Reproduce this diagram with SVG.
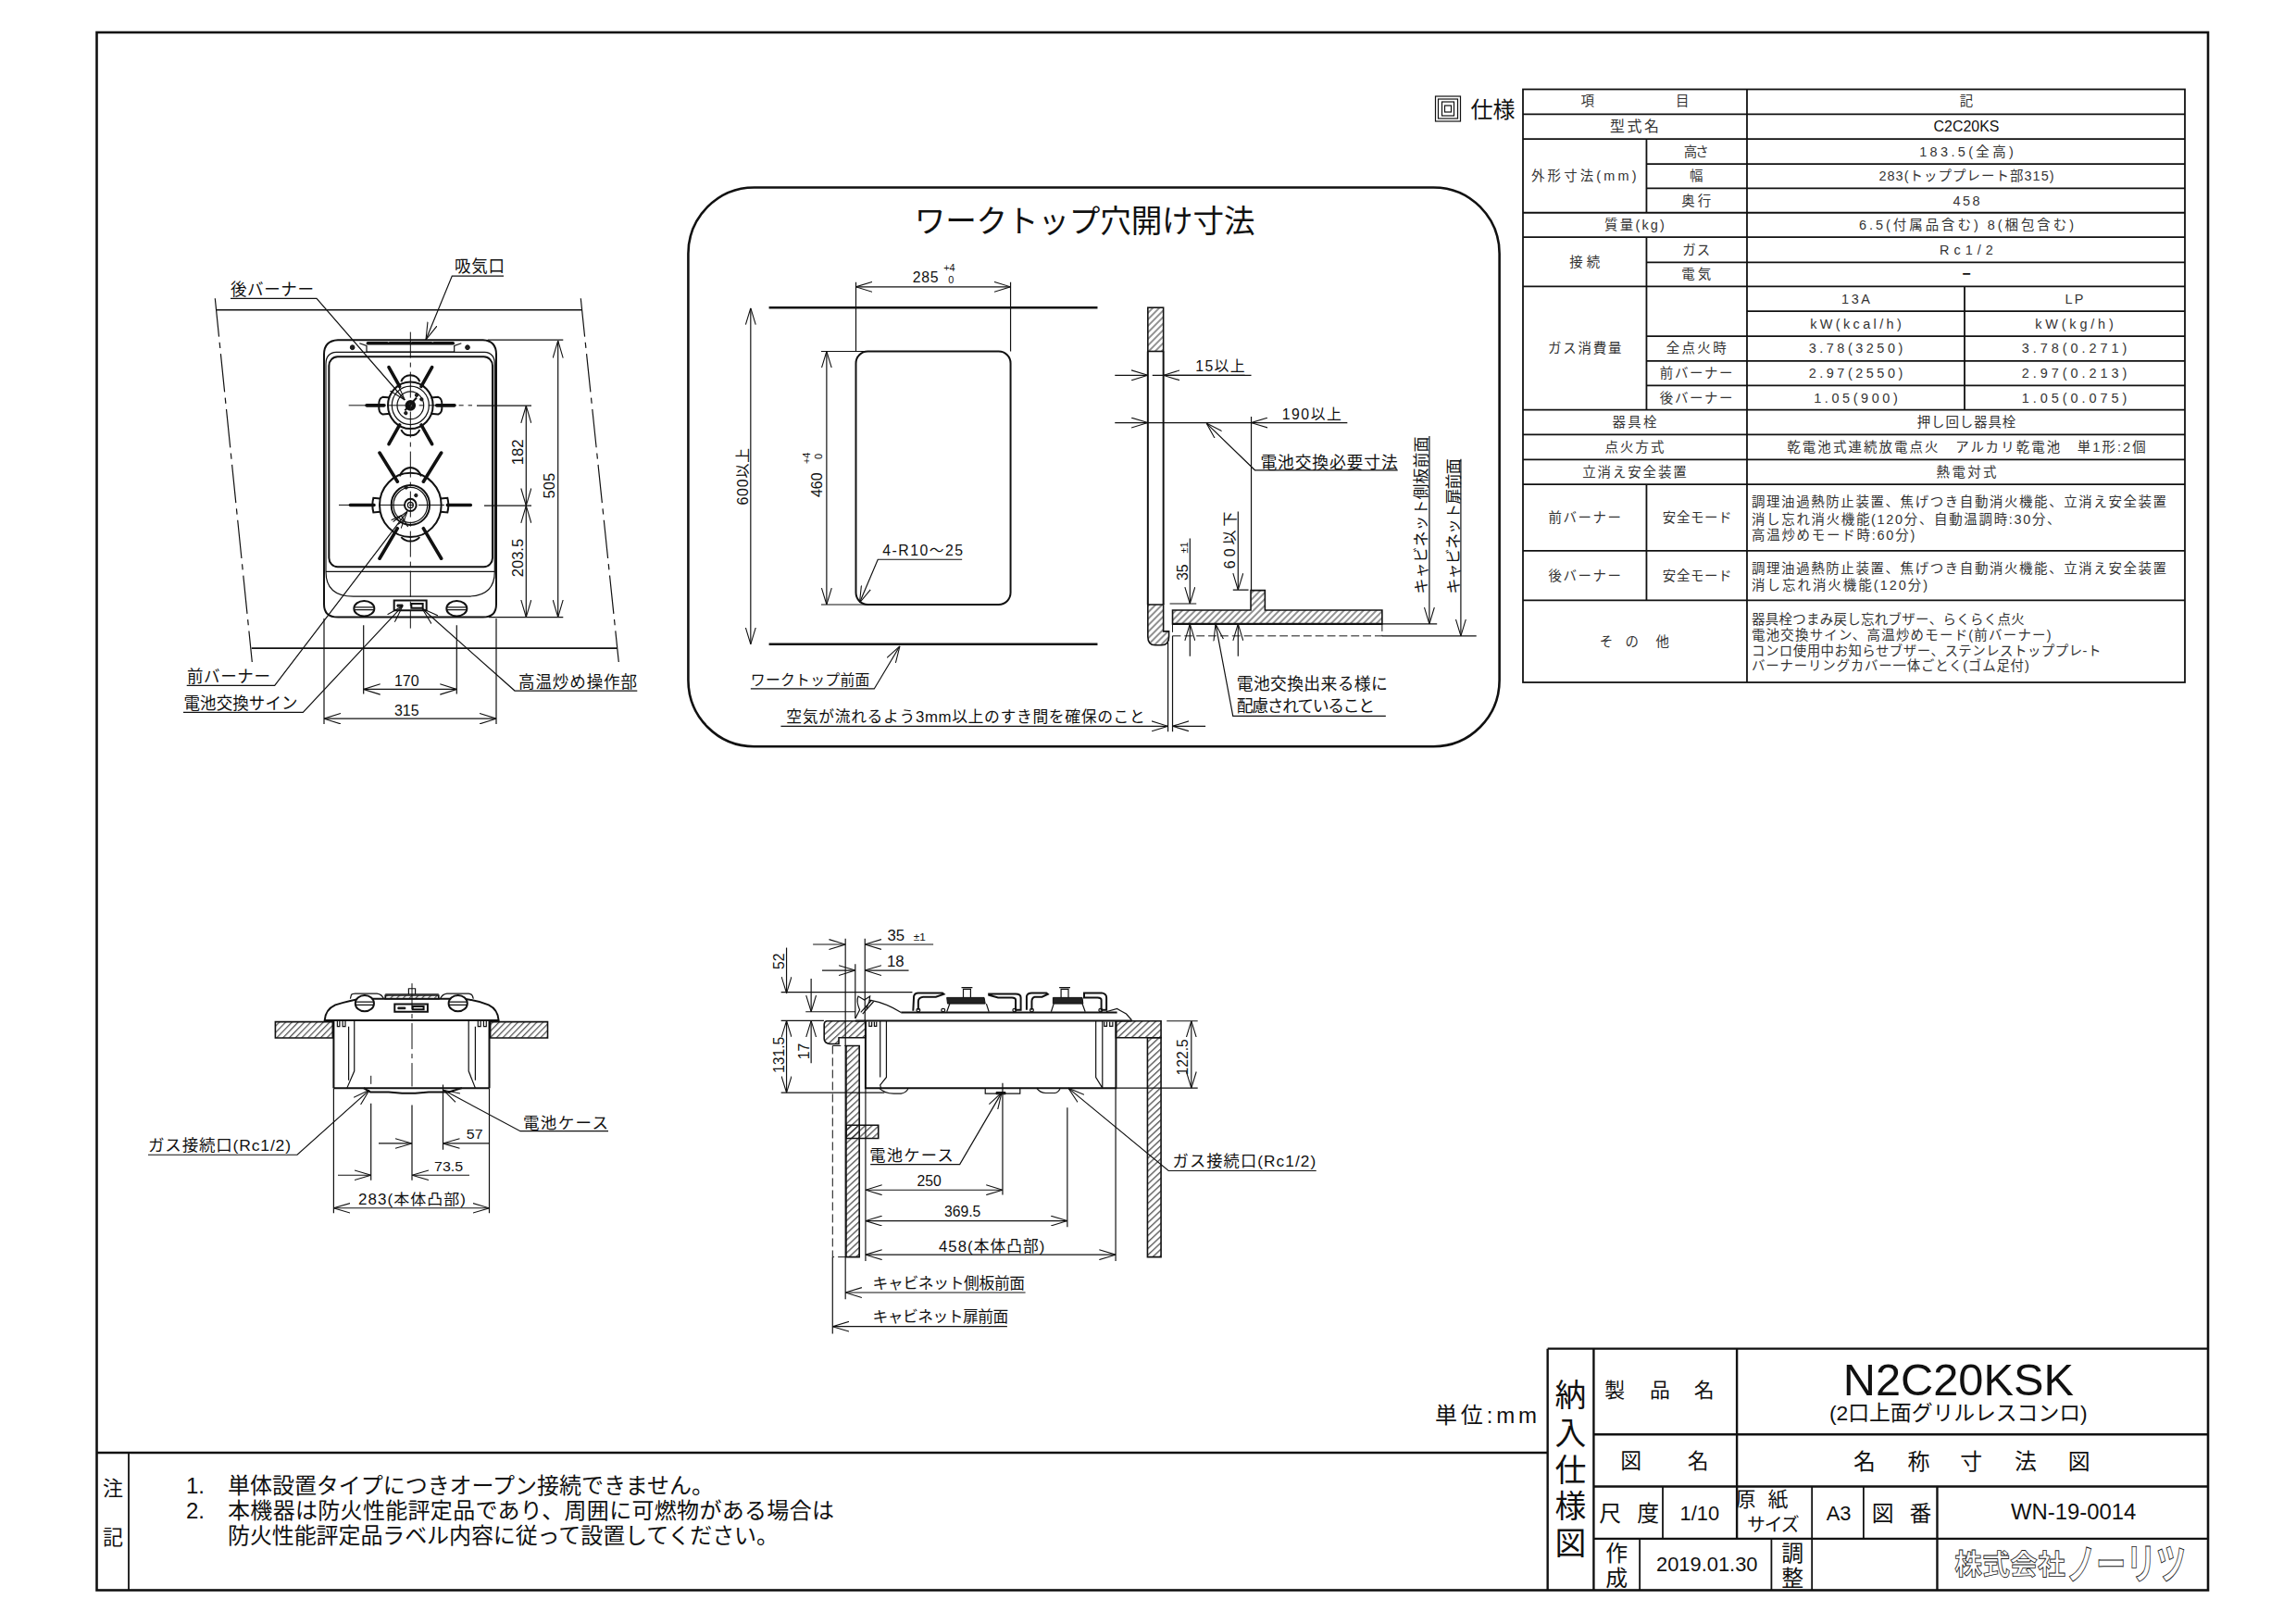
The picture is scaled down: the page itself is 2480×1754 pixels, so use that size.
<svg xmlns="http://www.w3.org/2000/svg" width="2480" height="1754" viewBox="0 0 2480 1754">
<style>
text{font-family:"Liberation Sans","Noto Sans CJK JP",sans-serif;fill:#111}
.c{dominant-baseline:central;text-anchor:middle}
.l{dominant-baseline:central}
.s{font-size:14.5px;fill:#333}
.d{font-size:16px}
.m{font-size:17.5px}
.b{font-size:24px}
.ln,.ln *{fill:none;stroke:#111;stroke-width:1.2}
.fr{fill:none;stroke:#111;stroke-width:2.6}
.g{fill:none;stroke:#111;stroke-width:1.8}
.th{fill:none;stroke:#111;stroke-width:2.4}
.ns *{vector-effect:non-scaling-stroke}
.o{fill:none;stroke:#111;stroke-width:1.2}
.o2{fill:none;stroke:#111;stroke-width:2}
.o3{fill:none;stroke:#111;stroke-width:3.6;stroke-linecap:round}
.h{fill:url(#hat);stroke:#111;stroke-width:1.6}
.hb{fill:url(#hatb);stroke:#111;stroke-width:1.6}
.dk{fill:#222;stroke:#111;stroke-width:1}
.ch{fill:none;stroke:#111;stroke-width:1;stroke-dasharray:28 5 5 5}
.da{fill:none;stroke:#111;stroke-width:1;stroke-dasharray:9 4}
.ar{marker-end:url(#ar)}
.ar2{marker-start:url(#ar);marker-end:url(#ar)}
</style>
<defs>
<marker id="ar" viewBox="0 0 18 12" refX="18" refY="6" markerWidth="18" markerHeight="12" markerUnits="userSpaceOnUse" orient="auto-start-reverse"><path d="M0,.5 L18,6 L0,11.5" fill="none" stroke="#111" stroke-width="1.1"/></marker>
<pattern id="hat" width="5" height="5" patternUnits="userSpaceOnUse" patternTransform="rotate(45)"><line x1="1" y1="0" x2="1" y2="5" stroke="#222" stroke-width="1"/></pattern>
<pattern id="hatb" width="14" height="14" patternUnits="userSpaceOnUse" patternTransform="rotate(42)"><line x1="2" y1="0" x2="2" y2="14" stroke="#222" stroke-width="2.8"/></pattern>
</defs>
<rect width="2480" height="1754" fill="#fff"/>

<g id="frame">
<rect class="fr" x="104.500" y="35" width="2280.500" height="1682.500"/>
<line class="th" x1="104.500" y1="1569" x2="1672" y2="1569"/>
<line class="g" x1="139" y1="1569" x2="139" y2="1717.500"/>
</g>

<g id="notes" transform="translate(0 -8)">
<text class="c" x="122" y="1615" font-size="22">注</text>
<text class="c" x="122" y="1668" font-size="22">記</text>
<text class="l b" x="201" y="1612">1.</text>
<text class="l b" x="246" y="1612" textLength="525">単体設置タイプにつきオープン接続できません。</text>
<text class="l b" x="201" y="1639">2.</text>
<text class="l b" x="246" y="1639" textLength="655">本機器は防火性能評定品であり、周囲に可燃物がある場合は</text>
<text class="l b" x="246" y="1666" textLength="595">防火性能評定品ラベル内容に従って設置してください。</text>
<text class="l" x="1550" y="1536" font-size="24" textLength="110">単位:mm</text>
</g>

<g id="title-block" transform="matrix(.9948 0 0 .9962 .4 -1.8)">
<path class="th" d="M1680,1464H2397M1680,1464V1726M1730,1464V1726M1885.500,1464V1670M1730,1557H2397M1730,1613.500H2397M1730,1670H2397M2103,1613.500V1726"/>
<path class="g" d="M1805,1613.500V1670M1967,1613.500V1726M2023,1613.500V1670M1780,1670V1726M1923,1670V1726"/>
<text class="c" x="1705" y="1515" font-size="34">納</text>
<text class="c" x="1705" y="1556" font-size="34">入</text>
<text class="c" x="1705" y="1596" font-size="34">仕</text>
<text class="c" x="1705" y="1635" font-size="34">様</text>
<text class="c" x="1705" y="1675" font-size="34">図</text>
<text class="l" x="1742 1791 1839" y="1509" font-size="22">製品名</text>
<text class="c" x="2126" y="1497" font-size="49">N2C20KSK</text>
<text class="c" x="2126" y="1534" font-size="23" textLength="280">(2口上面グリルレスコンロ)</text>
<text class="l" x="1759 1832" y="1586" font-size="23">図名</text>
<text class="l" x="2012 2071 2128 2187 2245" y="1586" font-size="24">名称寸法図</text>
<text class="l" x="1736 1777" y="1643" font-size="24">尺度</text>
<text class="c" x="1845" y="1643" font-size="22">1/10</text>
<text class="l" x="1884 1919" y="1627" font-size="22">原紙</text>
<text class="c" x="1925" y="1655" font-size="20" textLength="57">サイズ</text>
<text class="c" x="1996" y="1643" font-size="22">A3</text>
<text class="l" x="2032 2073" y="1643" font-size="24">図番</text>
<text class="c" x="2251" y="1641" font-size="24">WN-19-0014</text>
<text class="c" x="1755" y="1686" font-size="24">作</text>
<text class="c" x="1755" y="1713" font-size="24">成</text>
<text class="c" x="1853" y="1698" font-size="22">2019.01.30</text>
<text class="c" x="1946" y="1686" font-size="24">調</text>
<text class="c" x="1946" y="1713" font-size="24">整</text>
<text class="c" x="2182" y="1698" font-size="30" font-weight="bold" style="fill:#fff;stroke:#222;stroke-width:.8">株式会社</text>
<text class="c" x="2308" y="1699" font-size="46" font-weight="bold" textLength="130" lengthAdjust="spacingAndGlyphs" style="fill:#fff;stroke:#222;stroke-width:1">ノーリツ</text>
</g>

<g id="spec-heading" transform="translate(-8.500 0)">
<rect class="o" x="1559" y="104" width="27" height="27"/><rect class="o" x="1562" y="107" width="21" height="21"/><rect class="o" x="1566" y="110" width="13" height="15"/><rect class="o" x="1569" y="114" width="7" height="7"/>
<text class="l" x="1597" y="118" font-size="24">仕様</text>
</g>

<g id="spec-table" transform="matrix(.9958 0 0 .9946 -2.05 0)">
<rect class="g" x="1654" y="97" width="718" height="644"/>
<path class="g" d="M1654,124H2372M1654,151H2372M1788,178H2372M1788,204.500H2372M1654,231H2372M1654,257.600H2372M1788,285H2372M1654,311H2372M1897,338H2372M1788,365H2372M1788,392H2372M1788,418.600H2372M1654,445H2372M1654,472H2372M1654,499H2372M1654,526H2372M1654,598H2372M1654,652H2372M1897,97V741M1788,151V231M1788,257.600V445M1788,526V652M2133,311V445"/>
<text class="c s" x="1724" y="110">項</text><text class="c s" x="1827" y="110">目</text><text class="c s" x="2135" y="110">記</text>
<text class="c s" x="1775" y="137.500" textLength="53" style="font-size:16px">型式名</text><text class="c" x="2135" y="137.500" font-size="16">C2C20KS</text>
<text class="c s" x="1720" y="191" textLength="114">外形寸法(mm)</text>
<text class="c s" x="1842" y="164.500" textLength="27">高さ</text><text class="c s" x="1842" y="191">幅</text><text class="c s" x="1842" y="218" textLength="32">奥行</text>
<text class="c s" x="2135" y="164.500" textLength="102">183.5(全高)</text><text class="c s" x="2135" y="191" textLength="190">283(トッププレート部315)</text><text class="c s" x="2135" y="218" textLength="29">458</text>
<text class="c s" x="1775" y="244.500" textLength="65">質量(kg)</text><text class="c s" x="2135" y="244.500" textLength="233">6.5(付属品含む) 8(梱包含む)</text>
<text class="c s" x="1721" y="284.500" textLength="33">接続</text><text class="c s" x="1842" y="271" textLength="30">ガス</text><text class="c s" x="1842" y="298" textLength="32">電気</text>
<text class="c s" x="2135" y="271" textLength="58">Rc1/2</text><text class="c" x="2135" y="297" font-size="16" font-weight="bold">−</text>
<text class="c s" x="1721" y="378" textLength="80">ガス消費量</text>
<text class="c s" x="2015" y="324.500" textLength="31">13A</text><text class="c s" x="2252" y="324.500" textLength="20">LP</text>
<text class="c s" x="2015" y="351.500" textLength="99">kW(kcal/h)</text><text class="c s" x="2252" y="351.500" textLength="85">kW(kg/h)</text>
<text class="c s" x="1842" y="378.500" textLength="65">全点火時</text><text class="c s" x="1842" y="405" textLength="79">前バーナー</text><text class="c s" x="1842" y="432" textLength="79">後バーナー</text>
<text class="c s" x="2015" y="378.500" textLength="102">3.78(3250)</text><text class="c s" x="2252" y="378.500" textLength="114">3.78(0.271)</text>
<text class="c s" x="2015" y="405" textLength="102">2.97(2550)</text><text class="c s" x="2252" y="405" textLength="114">2.97(0.213)</text>
<text class="c s" x="2015" y="432" textLength="91">1.05(900)</text><text class="c s" x="2252" y="432" textLength="114">1.05(0.075)</text>
<text class="c s" x="1775" y="458.500" textLength="48">器具栓</text><text class="c s" x="2135" y="458.500" textLength="107">押し回し器具栓</text>
<text class="c s" x="1775" y="485.500" textLength="64">点火方式</text><text class="c s" x="2135" y="485.500" textLength="389">乾電池式連続放電点火　アルカリ乾電池　単1形:2個</text>
<text class="c s" x="1775" y="512.500" textLength="113">立消え安全装置</text><text class="c s" x="2135" y="512.500" textLength="65">熱電対式</text>
<text class="c s" x="1721" y="562" textLength="79">前バーナー</text><text class="c s" x="1843" y="562" textLength="75">安全モード</text>
<text class="l s" x="1902" y="545" textLength="450">調理油過熱防止装置、焦げつき自動消火機能、立消え安全装置</text>
<text class="l s" x="1902" y="564" textLength="335">消し忘れ消火機能(120分、自動温調時:30分、</text>
<text class="l s" x="1902" y="581" textLength="177">高温炒めモード時:60分)</text>
<text class="c s" x="1721" y="625" textLength="79">後バーナー</text><text class="c s" x="1843" y="625" textLength="75">安全モード</text>
<text class="l s" x="1902" y="617" textLength="450">調理油過熱防止装置、焦げつき自動消火機能、立消え安全装置</text>
<text class="l s" x="1902" y="635" textLength="191">消し忘れ消火機能(120分)</text>
<text class="l s" x="1737 1765 1798" y="697">その他</text>
<text class="l s" x="1902" y="673" textLength="296">器具栓つまみ戻し忘れブザー、らくらく点火</text>
<text class="l s" x="1902" y="690" textLength="325">電池交換サイン、高温炒めモード(前バーナー)</text>
<text class="l s" x="1902" y="707" textLength="379">コンロ使用中お知らせブザー、ステンレストッププレ-ト</text>
<text class="l s" x="1902" y="723" textLength="301">バーナーリングカバー一体ごとく(ゴム足付)</text>
</g>

<g id="top-view" transform="matrix(1 0 0 1.038 0 -9.88)">
<g class="ns" transform="translate(200 260) scale(.33333)">
<path class="o2" d="M450,355Q450,312 495,310H965Q1008,312 1008,355V1135Q1008,1175 965,1175H495Q450,1175 450,1135Z"/>
<path class="o" d="M456,1033V385Q456,350 490,348H970Q1003,350 1003,385V1033Q1003,1110 915,1110H545Q456,1110 456,1033ZM456,1033H1003"/>
<rect class="o2" x="466" y="362" width="530" height="656" rx="28"/>
<path class="o3" d="M592,320H655M663,320H730M736,320H798M806,320H868"/>
<path class="o" d="M565,320L588,328V347M895,320L872,328V347M588,347H872"/>
<circle class="dk" cx="542" cy="333" r="7"/><circle class="dk" cx="915" cy="333" r="7"/>
<g id="rear-burner">
<circle class="o2" cx="730" cy="514" r="73"/><circle class="o" cx="730" cy="514" r="60"/><circle class="o" cx="730" cy="514" r="43"/>
<circle class="o3" cx="730" cy="514" r="12"/><circle class="o" cx="730" cy="514" r="6"/>
<path class="o3" d="M660,395L695,455M800,395L765,455M660,635L695,575M800,635L765,575M588,514H645M815,514H873"/>
<path class="o2" d="M664,490L640,488Q626,492 628,515Q626,538 640,542L664,540M796,490L820,488Q834,492 832,515Q834,538 820,542L796,540M700,440Q708,420 730,420Q752,420 760,440M700,590Q708,608 730,608Q752,608 760,590"/>
<circle class="dk" cx="766" cy="495" r="5"/><circle class="dk" cx="715" cy="538" r="5"/><circle class="dk" cx="750" cy="482" r="5"/><path class="o2" d="M712,530L750,490"/>
</g>
<g id="front-burner">
<circle class="o2" cx="730" cy="825" r="100"/><circle class="o2" cx="730" cy="825" r="62"/><circle class="o" cx="730" cy="825" r="55"/>
<circle class="o2" cx="730" cy="825" r="19"/><circle class="o" cx="730" cy="825" r="9"/>
<path class="o3" d="M630,662L688,752M830,662L772,752M630,992L688,898M830,992L772,898M535,825H612M850,825H925"/>
<path class="o2" d="M632,805L610,803Q604,825 610,848L632,846M828,805L850,803Q856,825 850,848L828,846M695,735Q705,710 730,708Q755,710 765,735M700,925Q712,938 730,938Q748,938 760,925"/>
<circle class="dk" cx="716" cy="770" r="5"/><circle class="dk" cx="748" cy="795" r="5"/>
<path class="o" d="M668,872L700,858L722,893M690,885L712,870"/>
</g>
<path class="ch" d="M730,285V1210M530,514H930M498,825H925"/>
<ellipse class="o2" cx="580" cy="1148" rx="33" ry="24"/><path class="o" d="M548,1144H612M548,1152H612"/>
<ellipse class="o2" cx="880" cy="1148" rx="33" ry="24"/><path class="o" d="M848,1144H912M848,1152H912"/>
<rect class="o2" x="677" y="1123" width="105" height="31"/><rect class="o2" x="733" y="1133" width="37" height="14"/><rect class="dk" x="687" y="1136" width="18" height="6"/>
</g>
<text class="c m" x="294" y="311" textLength="90">後バーナー</text>
<text class="c m" x="518" y="287" textLength="54">吸気口</text>
<text class="c m" x="247" y="714" textLength="90">前バーナー</text>
<text class="c m" x="260" y="742" textLength="123">電池交換サイン</text>
<text class="c m" x="624" y="719" textLength="128">高温炒め操作部</text>
<text class="c d" transform="rotate(-90 593.3 515)" x="593.3" y="515">505</text>
<text class="c d" transform="rotate(-90 559 480)" x="559" y="480">182</text>
<text class="c d" transform="rotate(-90 559 590)" x="559" y="590">203.5</text>
<text class="c d" x="439.3" y="717.3">170</text>
<text class="c d" x="439.3" y="748.3">315</text>
</g>

<g id="cutout-view" transform="matrix(.9885 0 0 .9947 9.15 -.5)">
<rect class="fr" x="742.800" y="204" width="886.400" height="607" rx="72" ry="72"/>
<text class="c" x="1176" y="241" font-size="34" textLength="372">ワークトップ穴開け寸法</text>
<path class="th" d="M831,334.500H1190M831,700H1190"/>
<rect class="o2" x="926" y="382" width="169" height="275" rx="13"/>
<text class="c d" x="1002" y="302" textLength="28">285</text>
<text class="c" x="1028" y="291" font-size="11">+4</text><text class="c" x="1030" y="304" font-size="11">0</text>
<text class="c d" transform="rotate(-90 803 518)" x="803" y="518" textLength="62">600以上</text>
<text class="c d" transform="rotate(-90 884 527)" x="884" y="527">460</text>
<text class="c" transform="rotate(-90 872 498)" x="872" y="498" font-size="11">+4</text><text class="c" transform="rotate(-90 885 496)" x="885" y="496" font-size="11">0</text>
<text class="c" x="999" y="598" font-size="16" textLength="88">4-R10～25</text>
<text class="c" x="876" y="739" font-size="16" textLength="130">ワークトップ前面</text>
<text class="c" x="1046" y="779" font-size="17" textLength="392">空気が流れるよう3mm以上のすき間を確保のこと</text>
<rect class="h" x="1245" y="334.500" width="17" height="47.500"/>
<path class="o2" d="M1245,382V657M1262,382V657"/>
<path class="h" d="M1245,657H1262V686H1268V692Q1268,701 1260,701H1253Q1245,701 1245,692Z"/>
<path class="h" d="M1272,678V663H1357.500V641.500H1373V663H1501V678Z"/>
<path class="th" d="M1272,678H1501"/>
<path class="da" d="M1272,678V691H1501V678"/>
<text class="c d" x="1324" y="398" textLength="54">15以上</text>
<text class="c d" x="1424" y="450" textLength="65">190以上</text>
<text class="c" x="1443" y="503" font-size="18" textLength="150">電池交換必要寸法</text>
<text class="c d" transform="rotate(-90 1335 587)" x="1335" y="587" textLength="62">60以下</text>
<text class="c d" transform="rotate(-90 1283 622)" x="1283" y="622">35</text>
<text class="c" transform="rotate(-90 1285 595)" x="1285" y="595" font-size="11">±1</text>
<text class="c" transform="rotate(-90 1544 560)" x="1544" y="560" font-size="17" textLength="171">キャビネット側板前面</text>
<text class="c" transform="rotate(-90 1580 572)" x="1580" y="572" font-size="17" textLength="147">キャビネット扉前面</text>
<text class="l" x="1342" y="743.500" font-size="18" textLength="165">電池交換出来る様に</text>
<text class="l" x="1342" y="768" font-size="18" textLength="151">配慮されていること</text>
</g>

<g id="front-view" transform="matrix(1 0 0 .9635 -1 38.46)">
<g class="ns" transform="translate(140 1040) scale(.36 .345)">
<path class="o2" d="M588,185Q590,150 620,135Q670,118 700,115H1000Q1040,118 1080,135Q1108,150 1110,185Z"/>
<path class="o" d="M665,115L668,102Q670,98 680,98H745Q760,100 765,115M935,115Q940,100 955,98H1020Q1032,98 1034,115M770,100H930M840,100V82H860V100"/>
<rect class="hb" x="770" y="104" width="160" height="11"/>
<ellipse class="o2" cx="708" cy="130" rx="28" ry="26" style="fill:#fff"/><path class="o" d="M682,125H734M682,135H734"/>
<ellipse class="o2" cx="988" cy="130" rx="28" ry="26" style="fill:#fff"/><path class="o" d="M962,125H1014M962,135H1014"/>
<rect class="o2" x="798" y="132" width="99" height="25"/><rect class="o2" x="852" y="140" width="33" height="10"/><rect class="dk" x="808" y="143" width="22" height="5"/>
<rect class="hb" x="440" y="190" width="172" height="52"/><rect class="hb" x="1085" y="190" width="172" height="52"/>
<path class="o2" d="M615,187V405M1082,187V405M615,405H1082"/>
<path class="o" d="M677,187V350L655,405M660,205V380M1020,187V350L1040,405M1040,205V380"/>
<path class="o" d="M626,187V205H633V187M642,187V205H650V187M1048,187V205H1056V187M1065,187V205H1073V187"/>
<path class="o2" d="M705,405L725,418H780L820,422H860L900,418H960L1000,405"/>
<path class="ch" d="M850,65V400"/>
<path class="da" d="M727,365V405"/>
</g>
<text class="c d" x="513.700" y="1231.500">57</text>
<text class="c d" x="485.600" y="1267.700">73.5</text>
<text class="c" x="446" y="1305" font-size="17" textLength="116">283(本体凸部)</text>
<text class="c m" x="238" y="1244" textLength="154">ガス接続口(Rc1/2)</text>
<text class="c m" x="612" y="1219" textLength="92">電池ケース</text>
</g>

<g id="side-view" transform="matrix(.9848 0 0 .9812 13.46 18.8)">
<g class="ns" transform="translate(820 1000) scale(.4016 .34)">
<path class="hb" d="M182,308H288V362H215V382H190Q175,380 175,365V320Q175,310 182,308Z"/>
<rect class="hb" x="235" y="388" width="36" height="684"/>
<rect class="hb" x="235" y="645" width="88" height="43"/>
<path class="da" d="M198,388V1072H235M198,388H235"/>
<path class="hb" d="M972,308H1095V362H972Z"/>
<rect class="hb" x="1058" y="362" width="37" height="710"/>
<path class="o2" d="M288,308V525H972V308M260,307H1015M385,280H975"/>
<path class="o" d="M260,300L272,272Q262,245 268,228L285,240L300,228L298,245L290,268M300,240Q345,250 385,280M275,280L305,240M280,285L310,245"/>
<path class="o" d="M945,278L975,268L985,275L1000,285L1015,305"/>
<path class="o" d="M345,308V490L328,515L330,525M328,308V490M917,308V490L935,525M935,308V525"/>
<path class="o" d="M298,310V325H305V310M312,310V325H318V310M940,310V325H947V310M955,310V325H963V310"/>
<path class="o" d="M325,525Q340,543 365,543H385Q400,540 405,525M615,525V543H710V525M755,525Q765,541 780,541H805Q815,540 820,525"/>
<path class="dk" d="M645,538H670V545H645Z"/>
<path class="o2" d="M418,275L420,228Q422,217 432,217H498L502,221L480,230H445Q432,232 432,245V272M625,220H698Q712,220 712,232V272L698,272V240Q698,232 688,232H650L625,224ZM728,272V228Q730,217 742,217H782L786,221L770,230H750Q742,232 742,245V272M885,217H933Q946,220 946,232V272H932V240Q932,232 922,232H885Z"/>
<circle class="o" cx="432" cy="273" r="5"/><circle class="o" cx="500" cy="273" r="5"/><circle class="o" cx="695" cy="273" r="5"/><circle class="o" cx="742" cy="273" r="5"/><circle class="o" cx="930" cy="273" r="5"/>
<path class="dk" d="M510,232H612L615,252H512Z"/><path class="dk" d="M800,232H880L882,252H800Z"/>
<path class="o" d="M518,252L510,278M618,252L625,278M802,252L795,278M880,252L888,278M555,232V205H575V232M550,200H580M822,232V205H842V232M817,200H847"/>
</g>
<text class="c" x="969" y="1011" font-size="17">35</text><text class="c" x="995" y="1012" font-size="12">±1</text>
<text class="c" x="968.600" y="1039" font-size="17">18</text>
<text class="c d" transform="rotate(-90 841 1039)" x="841" y="1039">52</text>
<text class="c d" transform="rotate(-90 841 1142)" x="841" y="1142">131.5</text>
<text class="c d" transform="rotate(-90 868 1138)" x="868" y="1138">17</text>
<text class="c d" transform="rotate(-90 1284 1144.500)" x="1284" y="1144.500">122.5</text>
<text class="c d" x="1005.500" y="1280.500">250</text>
<text class="c d" x="1042" y="1314.500">369.5</text>
<text class="c" x="1074" y="1353" font-size="17" textLength="116">458(本体凸部)</text>
<text class="c m" x="986" y="1253" textLength="92">電池ケース</text>
<text class="c m" x="1351" y="1259" textLength="157">ガス接続口(Rc1/2)</text>
<text class="c" x="1027" y="1394" font-size="17" textLength="167">キャビネット側板前面</text>
<text class="c" x="1018" y="1431" font-size="17" textLength="149">キャビネット扉前面</text>
</g>

<g id="connectors" class="ln">
<g id="top-view-dims" transform="matrix(1 0 0 1.038 0 -9.88)">
<path class="ar" d="M249,320H342L437.300,425.700"/>
<path class="ar" d="M544,296.700H488.300L460,363"/>
<path class="ar" d="M201.700,722.700H296.700L440,541.700"/>
<path class="ar" d="M198,750.700H327.300L435,640"/>
<path class="ar" d="M688.300,728.300H556L456,642.700"/>
<path style="stroke-dasharray:40 6 6 6" d="M232.300,320L272.300,698.300M627.300,320L668.300,698.300"/>
<path style="stroke-width:1.6" d="M233.300,332H628.300M271.700,684H666.700"/>
<path class="ar2" d="M602.700,364V651.700"/>
<path d="M526.700,363.300H608.300M528,651.700H608.300M515,431.700H574M523,535.700H574"/>
<path class="ar2" d="M568.300,431.700V535.700"/>
<path class="ar2" d="M568.300,535.700V651.700"/>
<path class="ar2" d="M392.700,726.700H493.300"/>
<path d="M392.700,660V731.700M493.300,660V731.700M350,653V763M536,653V763"/>
<path class="ar2" d="M350,757.300H536"/>
</g>
<g id="cutout-dims" transform="matrix(.9885 0 0 .9947 9.15 -.5)">
<path d="M926,307V382M1095,307V382M888,382H946M888,657H940M1250,408H1358M1358,453V641"/>
<path class="ar2" d="M926,312H1095"/>
<path class="ar2" d="M811,335V700"/>
<path class="ar2" d="M894,382V657"/>
<path class="ar" d="M1042,608H950L930,655"/>
<path class="ar" d="M811,748.400H946L974,702"/>
<path class="ar" d="M844,789H1267"/>
<path class="ar" d="M1308,789H1272"/>
<path d="M1267,698V795M1272,691V795"/>
<path class="ar" d="M1209,408H1245"/>
<path class="ar" d="M1351,408H1262"/>
<path class="ar" d="M1209,459.500H1245"/>
<path d="M1245,459.500H1358"/>
<path class="ar" d="M1463,459.500H1358"/>
<path class="ar" d="M1518,511H1362L1309,460"/>
<path class="ar" d="M1343.600,556V641"/>
<path class="ar" d="M1343.600,713V678"/>
<path d="M1338,641H1355M1269,656H1298"/>
<path class="ar" d="M1291,585V656"/>
<path class="ar" d="M1291,713V678"/>
<path class="ar" d="M1505,778H1338L1319,678"/>
<path class="ar" d="M1552.600,474V678"/>
<path class="ar" d="M1587,499V691"/>
<path d="M1501,678H1561M1501,691H1604"/>
</g>
<g id="front-dims" transform="matrix(1 0 0 .9635 -1 38.46)">
<path d="M446,1198.700V1283M401.700,1197V1283M479.500,1176V1249M361.400,1180V1320M529.500,1180V1320"/>
<path class="ar" d="M410,1241.800H446"/>
<path class="ar" d="M529.500,1241.800H479.500"/>
<path class="ar" d="M366,1277.400H401.700"/>
<path class="ar" d="M508,1277.400H446"/>
<path class="ar2" d="M361.400,1314.300H529.500"/>
<path class="ar" d="M161,1254.600H322L400,1182"/>
<path class="ar" d="M658,1228H563L480,1182"/>
</g>
<g id="side-dims" transform="matrix(.9848 0 0 .9812 13.46 18.8)">
<path class="ar" d="M878,1020.400H913.600"/>
<path class="ar" d="M1010,1020.400H935"/>
<path class="ar" d="M888,1049H924.400"/>
<path class="ar" d="M983,1049H935"/>
<path d="M913.600,1014V1411M935,1014V1105M924.400,1042V1102M935.700,1178V1369M1210,1178V1369M843,1073H987M870,1094.500H924M843,1104.400H890M843,1183.600H956.500M1266,1104.700H1300M1210,1178.500H1300M1086,1173V1296M1157,1200V1331.500M899.500,1364.500V1449"/>
<path class="ar" d="M849,1024V1074"/>
<path class="ar2" d="M849,1104.400V1183.600"/>
<path class="ar" d="M876,1058V1094.500"/>
<path class="ar" d="M876,1151V1104.400"/>
<path class="ar2" d="M1293,1104.700V1178.500"/>
<path class="ar" d="M941,1262.500H1039L1085,1183.600"/>
<path class="ar" d="M1430,1269.600H1268L1158,1178.500"/>
<path class="ar2" d="M935.700,1290.700H1086"/>
<path class="ar2" d="M935.700,1324.700H1157"/>
<path class="ar2" d="M935.700,1362H1210"/>
<path class="ar" d="M1111,1403.600H913.600"/>
<path class="ar" d="M1091,1441H899.500"/>
</g>
</g>
</svg>
